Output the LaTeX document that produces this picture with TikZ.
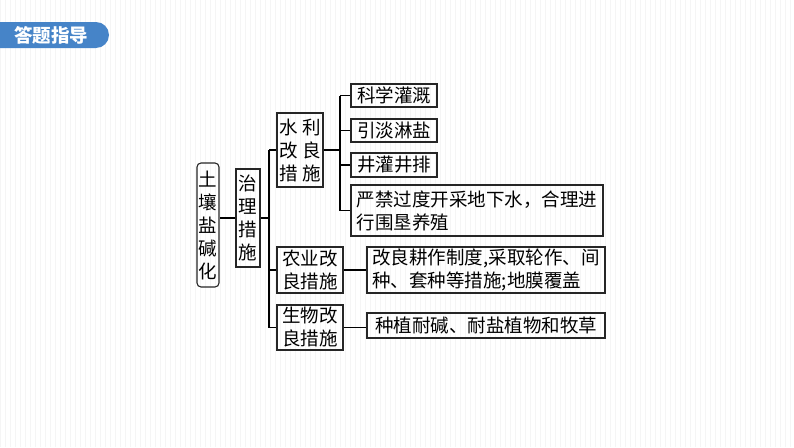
\documentclass[tikz,border=0pt]{standalone}
\usepackage{fontspec}
\setmainfont{Noto Sans CJK SC}
\definecolor{tabblue}{RGB}{70,132,200}

\begin{document}
\begin{tikzpicture}[x=1pt, y=-1pt, line width=1.1pt,
  box/.style={draw=black!85, inner sep=0pt, align=center, font=\fontsize{18.5}{23}\selectfont},
  wide/.style={box, align=left}]
\useasboundingbox (0,0) rectangle (794,447);
\fill[white] (0,0) rectangle (794,447);
\draw[black!4, line width=0.4pt, step=5] (0,0) grid (794,447);
% header tab
\fill[tabblue, rounded corners=13pt] (-20,22) rectangle (109,48);
\node[text=white, font=\bfseries\fontsize{18.5}{20}\selectfont] (tab) at (51,35) {答题指导};
% left part
\node[box, rounded corners=4pt, minimum width=22, minimum height=124] (soil) at (208,225) {土\\壤\\盐\\碱\\化};
\node[box, minimum width=24, minimum height=98] (zl) at (248,218) {治\\理\\措\\施};
\coordinate (t1) at (269,218);
\node[box, minimum width=46, minimum height=74] (sl) at (300,150) {水\hspace{4pt}利\\改\hspace{4pt}良\\措\hspace{4pt}施};
\node[box, minimum width=66, minimum height=46] (ny) at (310,270) {农业改\\良措施};
\node[box, minimum width=66, minimum height=45] (sw) at (310,327.5) {生物改\\良措施};
% water measures
\coordinate (t2) at (340,150);
\node[box, minimum width=86, minimum height=23] (kx) at (394,95.5) {科学灌溉};
\node[box, minimum width=86, minimum height=23] (yd) at (394,130.5) {引淡淋盐};
\node[box, minimum width=86, minimum height=24] (jg) at (394,165) {井灌井排};
\node[wide, minimum width=252, minimum height=51] (yj) at (477,210.5) {严禁过度开采地下水，合理进\\行围垦养殖};
% farming and biology
\node[wide, minimum width=238, minimum height=46] (gl) at (486,270) {改良耕作制度,采取轮作、间\\种、套种等措施;地膜覆盖};
\node[box, minimum width=238, minimum height=25] (zz) at (486,325.5) {种植耐碱、耐盐植物和牧草};
% connectors
\draw (zl.west) -- (zl.west -| soil.east);
\draw (zl.east) -- (t1);
\draw (t1 |- sl.west) -- (t1 |- sw.west);
\draw (t1 |- sl.west) -- (sl.west);
\draw (t1 |- ny.west) -- (ny.west);
\draw (t1 |- sw.west) -- (sw.west);
\draw (sl.east) -- (t2);
\draw (t2 |- kx.west) -- (t2 |- yj.west);
\draw (t2 |- kx.west) -- (kx.west);
\draw (t2 |- yd.west) -- (yd.west);
\draw (t2 |- jg.west) -- (jg.west);
\draw (t2 |- yj.west) -- (yj.west);
\draw (ny.east) -- (gl.west);
\draw (sw.east) -- (sw.east -| zz.west);
\end{tikzpicture}
\end{document}
